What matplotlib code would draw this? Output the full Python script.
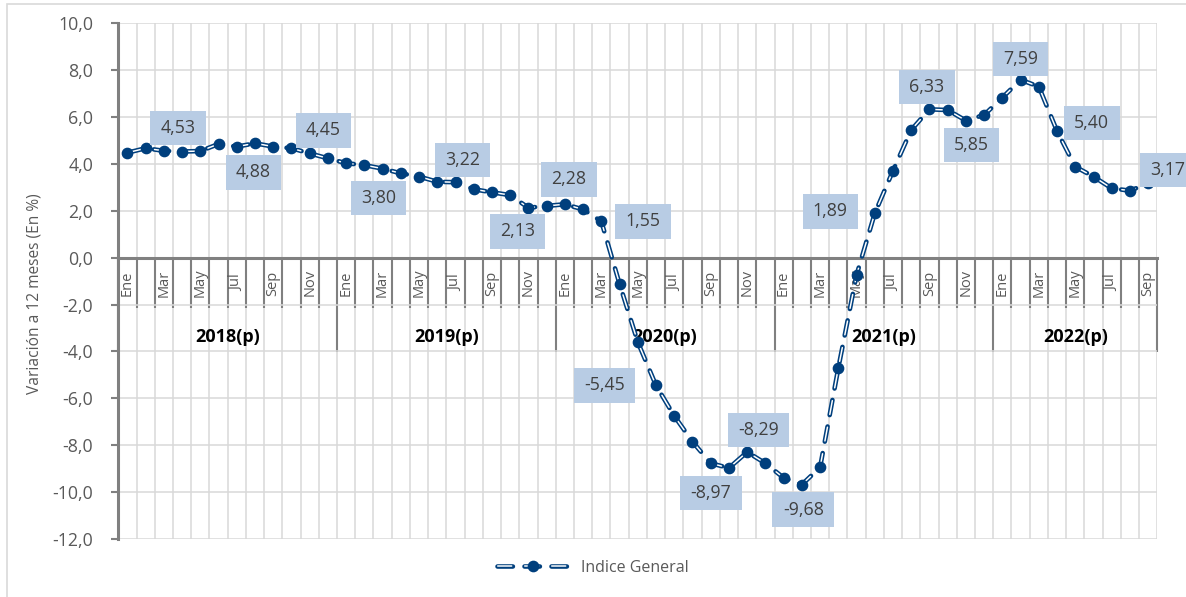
import numpy as np
import matplotlib
matplotlib.use("Agg")
import matplotlib.pyplot as plt
from matplotlib.path import Path
from matplotlib.ticker import FuncFormatter, FixedLocator, NullFormatter

plt.rcParams['font.family'] = ['Open Sans', 'DejaVu Sans']
plt.rcParams['lines.scale_dashes'] = False

# ---------------- data ----------------
months = ['Ene', 'Feb', 'Mar', 'Abr', 'May', 'Jun', 'Jul', 'Ago', 'Sep', 'Oct', 'Nov', 'Dic']
years = ['2018(p)', '2019(p)', '2020(p)', '2021(p)', '2022(p)']
months_per_year = [12, 12, 12, 12, 9]
values_2018 = [4.48, 4.67, 4.56, 4.53, 4.55, 4.85, 4.74, 4.88, 4.74, 4.67, 4.45, 4.24]
values_2019 = [4.03, 3.95, 3.80, 3.60, 3.46, 3.24, 3.22, 2.92, 2.79, 2.67, 2.13, 2.21]
values_2020 = [2.28, 2.06, 1.55, -1.12, -3.60, -5.45, -6.75, -7.85, -8.77, -8.97, -8.29, -8.77]
values_2021 = [-9.39, -9.68, -8.94, -4.71, -0.74, 1.89, 3.71, 5.45, 6.33, 6.30, 5.85, 6.09]
values_2022 = [6.83, 7.59, 7.30, 5.40, 3.88, 3.46, 2.96, 2.86, 3.17]
series_name = 'Indice General'
y_label = 'Variación a 12 meses (En %)'
y_ticks = [10, 8, 6, 4, 2, 0, -2, -4, -6, -8, -10, -12]

# indices of labelled points and their label offsets (points)
label_idx = [3, 7, 10, 14, 18, 22, 24, 26, 29, 33, 34, 37, 41, 44, 46, 49, 51, 56]
label_off = [(-3, 17), (-1, -21), (10, 16.5), (-3, -21), (5, 16), (-8, -17), (3, 18),
             (30, 0), (-37, 0), (-13, -18), (8, 16), (1, -18), (-32, 1.5), (-2, 16),
             (4, -17.5), (0, 15), (25, 6), (14, 9.5)]

values = values_2018 + values_2019 + values_2020 + values_2021 + values_2022
cat_months = [months[i] for n in months_per_year for i in range(n)]
n = len(values)
x = np.arange(n)

NAVY = '#003F7D'
GRAY = '#808080'
GRID = '#D9D9D9'
TXT = '#595959'

fig = plt.figure(figsize=(11.86, 5.97), dpi=100)
ax = fig.add_axes([118.3 / 1186, 1 - 539 / 597, (1157.3 - 118.3) / 1186, (539 - 23.3) / 597])

# outer frame
fig.add_artist(plt.Rectangle((7 / 1186, -0.1), 1.2, 1.1 - 4 / 597, transform=fig.transFigure,
                             fill=False, edgecolor=GRID, lw=1.2))

ax.set_xlim(-0.5, n - 0.5)
ax.set_ylim(-12, 10)

# y axis
ax.set_yticks(y_ticks)
ax.yaxis.set_major_formatter(FuncFormatter(lambda v, p: f'{v:.1f}'.replace('.', ',')))
ax.tick_params(axis='y', direction='out', length=5, width=1.5, color=GRAY, pad=13,
               labelsize=12.8, labelcolor=TXT)
ax.set_ylabel(y_label, fontsize=11.2, color=TXT)
ax.yaxis.set_label_coords(-0.0725, 0.475)

# x axis: category axis at zero
year_bounds = np.cumsum([0] + months_per_year) - 0.5
ax.xaxis.set_major_locator(FixedLocator(year_bounds))
ax.xaxis.set_minor_locator(FixedLocator(np.arange(-0.5, n, 1)))
ax.xaxis.set_major_formatter(NullFormatter())
ax.xaxis.set_minor_formatter(NullFormatter())
ax.tick_params(axis='x', which='major', direction='out', length=68, width=1.5, color=GRAY)
ax.tick_params(axis='x', which='minor', direction='out', length=36, width=1.5, color=GRAY)
ax.spines['bottom'].set_position(('data', 0))
for s in ['top', 'right']:
    ax.spines[s].set_visible(False)
for s in ['left', 'bottom']:
    ax.spines[s].set_color(GRAY)
    ax.spines[s].set_linewidth(2.2)
    ax.spines[s].set_zorder(3)

ax.grid(True, axis='y', which='major', color=GRID, lw=1.1)
ax.grid(True, axis='x', which='both', color=GRID, lw=1.1)
ax.set_axisbelow(True)

for i, m in enumerate(cat_months):
    if i % 2 == 0:
        ax.annotate(m, xy=(i, 0), xycoords='data', xytext=(0, -18.2), textcoords='offset points',
                    rotation=90, ha='center', va='center', fontsize=10.5, color=TXT)
start = 0
for yname, cnt in zip(years, months_per_year):
    center = start + (cnt - 1) / 2
    ax.annotate(yname, xy=(center, 0), xycoords='data', xytext=(0, -57), textcoords='offset points',
                ha='center', va='center', fontsize=13, fontweight='bold', color='black')
    start += cnt

# series line: navy dashed capsule with white core
px = 0.72
h_navy, = ax.plot(x, values, color=NAVY, lw=4.6 * px, dash_capstyle='round', zorder=4)
h_navy.set_linestyle((0, (15.4 * px, 11.6 * px)))
h_white, = ax.plot(x, values, color='white', lw=1.5 * px, dash_capstyle='round', zorder=5)
h_white.set_linestyle((26.3 * px, (14.0 * px, 13.0 * px)))
h_mark, = ax.plot(x, values, ls='none', marker='o', ms=7.4, color=NAVY, mec=NAVY, zorder=6)


def label_box(x0, y0, width, height, mutation_size):
    padx = 0.58 * mutation_size
    half_h = 0.97 * mutation_size
    cy = y0 + height / 2
    verts = [(x0 - padx, cy - half_h), (x0 + width + padx, cy - half_h),
             (x0 + width + padx, cy + half_h), (x0 - padx, cy + half_h), (x0 - padx, cy - half_h)]
    return Path(verts, closed=True)


for idx, off in zip(label_idx, label_off):
    txt = f'{values[idx]:.2f}'.replace('.', ',')
    ax.annotate(txt, xy=(idx, values[idx]), xytext=off, textcoords='offset points',
                ha='center', va='center', fontsize=12.8, color='#404040', zorder=7,
                bbox=dict(boxstyle=label_box, fc='#B8CCE4', ec='none'),
                annotation_clip=False)

leg = ax.legend([(h_navy, h_white, h_mark)], [series_name], loc='center',
                bbox_to_anchor=(593 / 1186, 1 - 568 / 597), bbox_transform=fig.transFigure,
                frameon=False, handlelength=4.5, fontsize=11.5, numpoints=1)
for t in leg.get_texts():
    t.set_color(TXT)

fig.savefig('out.png', dpi=100)
